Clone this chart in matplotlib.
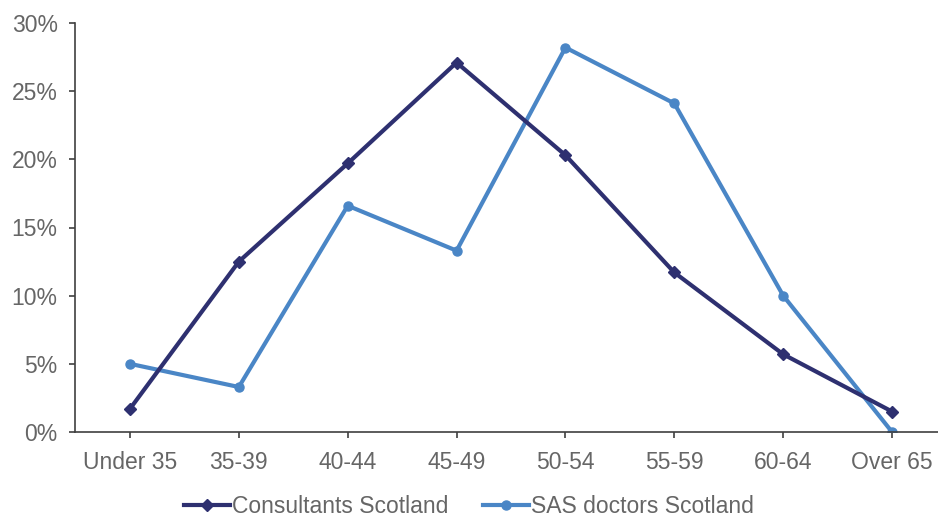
import matplotlib
matplotlib.use("Agg")
import matplotlib.pyplot as plt
from matplotlib.ticker import FuncFormatter

plt.rcParams['font.family'] = ['Liberation Sans', 'DejaVu Sans']

categories = ["Under 35", "35-39", "40-44", "45-49", "50-54", "55-59", "60-64", "Over 65"]
consultants = [1.7, 12.5, 19.7, 27.1, 20.3, 11.7, 5.7, 1.5]
sas = [5.0, 3.3, 16.6, 13.3, 28.2, 24.1, 10.0, 0.0]
series_names = ["Consultants Scotland", "SAS doctors Scotland"]

fig = plt.figure(figsize=(9.38, 5.2), dpi=100)
W, H = 938, 520
left, right, bottom, top = 75, 946.5, 432, 23
ax = fig.add_axes([left / W, 1 - bottom / H, (right - left) / W, (bottom - top) / H])

x = list(range(len(categories)))
ax.plot(x, consultants, color="#2E3070", lw=3.0, marker="D", ms=6.5, label=series_names[0], zorder=3)
ax.plot(x, sas, color="#4A86C6", lw=3.0, marker="o", ms=6.5, label=series_names[1], zorder=2)

ax.set_xlim(-0.505, len(categories) - 0.5)
ax.set_ylim(0, 30)
ax.set_yticks(range(0, 31, 5))
ax.yaxis.set_major_formatter(FuncFormatter(lambda v, p: f"{int(v)}%"))
ax.set_xticks(x)
ax.set_xticklabels(categories)

for s in ["top", "right"]:
    ax.spines[s].set_visible(False)
for s in ["left", "bottom"]:
    ax.spines[s].set_color("#404040")
    ax.spines[s].set_linewidth(1.2)
ax.tick_params(axis="both", direction="out", length=4.5, width=1.2, color="#404040",
               labelsize=16.5, labelcolor="#666666")
ax.tick_params(axis="x", pad=9)
ax.tick_params(axis="y", pad=8)

fig.legend(loc="lower center", bbox_to_anchor=(0.5, -0.036), ncol=2, frameon=False,
           fontsize=16.5, labelcolor="#666666", handlelength=2.0, handletextpad=0.1,
           columnspacing=1.5)

fig.savefig("out.png", dpi=100)
